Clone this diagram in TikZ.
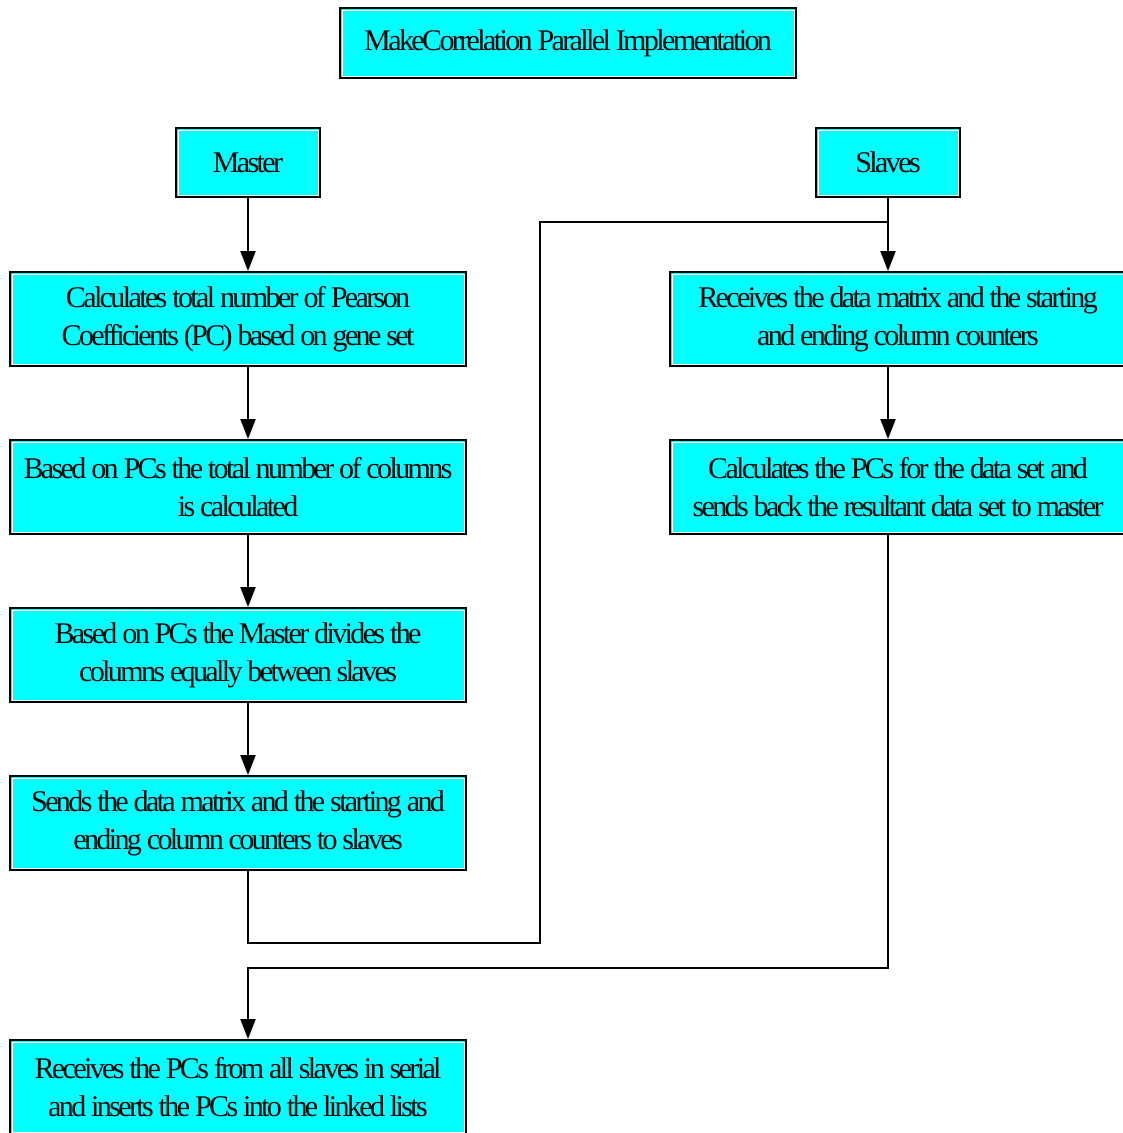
\documentclass[tikz,border=0pt]{standalone}
\usepackage{fontspec}
\setmainfont{Liberation Serif}[LetterSpace=-8.7]
\usetikzlibrary{arrows.meta}
\definecolor{boxfill}{RGB}{0,255,255}
\begin{document}
\begin{tikzpicture}[x=1pt,y=-1pt,
  box/.style={rectangle, draw=black, line width=2pt, fill=boxfill,
    inner sep=0pt, align=center,
    font=\fontsize{30}{38}\selectfont,
    path picture={\draw[white, line width=1pt]
      ([shift={(2pt,-2pt)}]path picture bounding box.north west) rectangle
      ([shift={(-2pt,2pt)}]path picture bounding box.south east);}},
  wide/.style={box, minimum width=456pt, minimum height=94pt,
    execute at begin node={\rule{0pt}{33pt}}},
  head/.style={box, minimum width=144pt, minimum height=69pt},
  link/.style={draw=black, line width=2pt},
  arr/.style={link, -{Triangle[length=20pt,width=15pt]}}]
\useasboundingbox (0,0) rectangle (1123,1133);
\clip (0,0) rectangle (1123,1133);

% headings
\node[box, minimum width=456pt, minimum height=70pt] (title) at (568,43) {MakeCorrelation Parallel Implementation};
\node[head] (master) at (248,162.5) {Master};
\node[head] (slaves) at (888,162.5) {Slaves};

% master column
\node[wide] (l1) at (238,319) {Calculates total number of Pearson\\Coefficients (PC) based on gene set};
\node[wide] (l2) at (238,487) {Based on PCs the total number of columns\\is calculated};
\node[wide] (l3) at (238,655) {Based on PCs the Master divides the\\columns equally between slaves};
\node[wide] (l4) at (238,823) {Sends the data matrix and the starting and\\ending column counters to slaves};
\node[wide] (l5) at (238,1087) {Receives the PCs from all slaves in serial\\and inserts the PCs into the linked lists};

% slave column
\node[wide] (r1) at (898,319) {Receives the data matrix and the starting\\and ending column counters};
\node[wide] (r2) at (898,487) {Calculates the PCs for the data set and\\sends back the resultant data set to master};

% routing points
\coordinate (k1) at (540,943);
\coordinate (k2) at (540,222);
\coordinate (k3) at (888,222);
\coordinate (k4) at (248,968);

% connectors
\draw[arr] (master.south) -- (master.south |- l1.north);
\draw[arr] (l1.south -| master.south) -- (l2.north -| master.south);
\draw[arr] (l2.south -| master.south) -- (l3.north -| master.south);
\draw[arr] (l3.south -| master.south) -- (l4.north -| master.south);
\draw[arr] (slaves.south) -- (slaves.south |- r1.north);
\draw[arr] (r1.south -| slaves.south) -- (r2.north -| slaves.south);
\draw[link] (l4.south -| master.south) |- (k1) -- (k2) -- (k3);
\draw[arr] (r2.south -| slaves.south) |- (k4) -- (l5.north -| master.south);
\end{tikzpicture}
\end{document}
